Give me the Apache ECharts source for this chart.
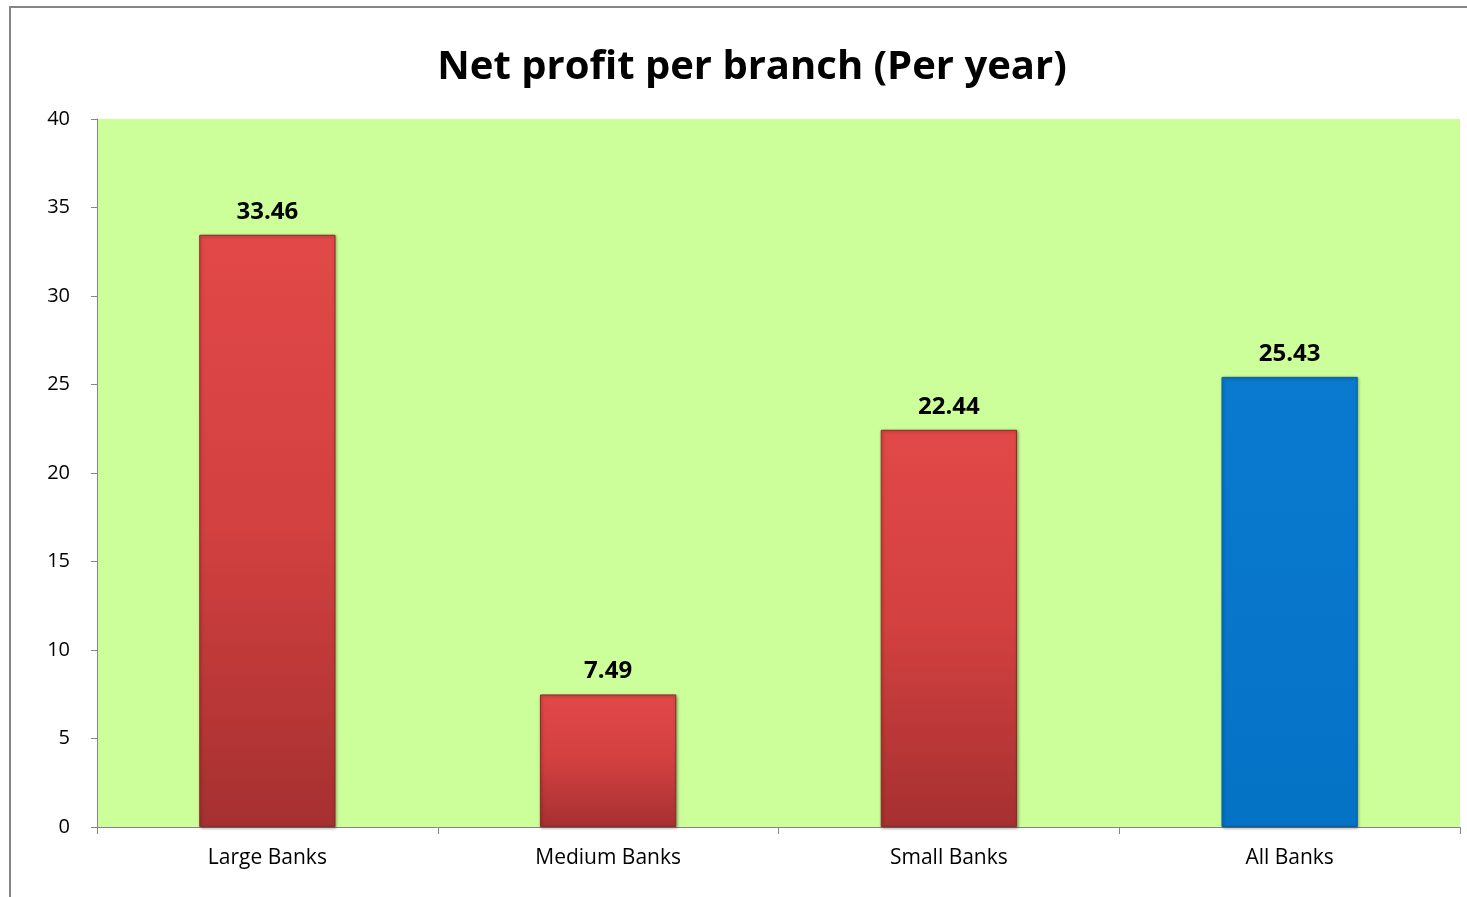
<!DOCTYPE html>
<html>
<head>
<meta charset="utf-8">
<script src="https://cdn.jsdelivr.net/npm/echarts@6/dist/echarts.min.js"></script>
<style>
  html, body { margin: 0; padding: 0; background: #ffffff; }
  #chart { width: 1467px; height: 897px; }
</style>
</head>
<body>
<div id="chart"></div>
<script>
// Bank groups and their yearly net profit per branch
const categories = ['Large Banks', 'Medium Banks', 'Small Banks', 'All Banks'];
const profits = [33.46, 7.49, 22.44, 25.43];
const yTicks = { min: 0, max: 40, interval: 5 };

const redFill = new echarts.graphic.LinearGradient(0, 0, 0, 1, [
  { offset: 0, color: '#e24848' },
  { offset: 0.5, color: '#d24040' },
  { offset: 1, color: '#a63030' }
]);
const blueFill = new echarts.graphic.LinearGradient(0, 0, 0, 1, [
  { offset: 0, color: '#0a7ad0' },
  { offset: 1, color: '#0473c6' }
]);

const barData = profits.map((v, i) => ({
  value: v,
  itemStyle: {
    color: i === profits.length - 1 ? blueFill : redFill,
    borderColor: i === profits.length - 1 ? '#0a5f9e' : '#8f2a2a',
    borderWidth: 1,
    shadowColor: 'rgba(0,0,0,0.35)',
    shadowBlur: 3,
    shadowOffsetX: 1,
    shadowOffsetY: 1
  }
}));

const chart = echarts.init(document.getElementById('chart'));
chart.setOption({
  animation: false,
  backgroundColor: '#ffffff',
  title: {
    text: 'Net profit per branch (Per year)',
    left: 747,
    textAlign: 'center',
    top: 43,
    textStyle: {
      fontFamily: 'Open Sans',
      fontWeight: 'bold',
      fontSize: 40,
      color: '#000000'
    }
  },
  graphic: [{
    type: 'rect',
    silent: true,
    z: -1,
    shape: { x: 10, y: 7, width: 1500, height: 1000 },
    style: { fill: 'none', stroke: '#868686', lineWidth: 2 }
  }],
  grid: {
    left: 97,
    right: 7,
    top: 119,
    bottom: 70,
    show: true,
    backgroundColor: '#ccff99',
    borderWidth: 0
  },
  xAxis: {
    type: 'category',
    data: categories,
    axisLine: { lineStyle: { color: '#868686', width: 1 } },
    axisTick: { show: true, length: 7, lineStyle: { color: '#868686' } },
    axisLabel: {
      fontFamily: 'Open Sans',
      fontSize: 21,
      color: '#000000',
      margin: 21
    }
  },
  yAxis: {
    type: 'value',
    min: yTicks.min,
    max: yTicks.max,
    interval: yTicks.interval,
    axisLine: { show: true, lineStyle: { color: '#868686', width: 1 } },
    axisTick: { show: true, length: 6, lineStyle: { color: '#868686' } },
    splitLine: { show: false },
    axisLabel: {
      fontFamily: 'Open Sans',
      fontSize: 20,
      color: '#000000',
      margin: 27
    }
  },
  series: [{
    type: 'bar',
    data: barData,
    barWidth: '40%',
    label: {
      show: true,
      position: 'top',
      distance: 11,
      fontFamily: 'Open Sans',
      fontWeight: 'bold',
      fontSize: 24,
      color: '#000000',
      formatter: p => p.value.toFixed(2)
    }
  }]
});
</script>
</body>
</html>
